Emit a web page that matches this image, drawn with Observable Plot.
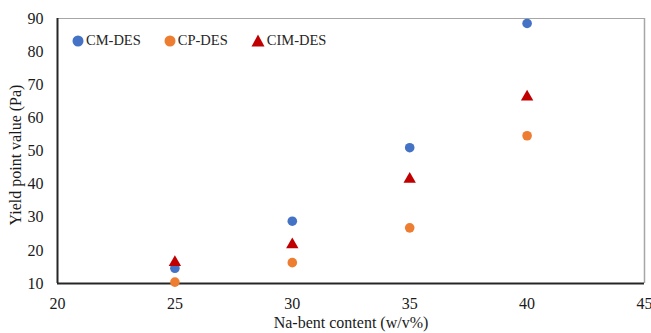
<!DOCTYPE html>
<html>
<head>
<meta charset="utf-8">
<script src="https://cdn.jsdelivr.net/npm/d3@7"></script>
<script src="https://cdn.jsdelivr.net/npm/@observablehq/plot@0.6"></script>
<style>
  html, body { margin: 0; padding: 0; background: #fff; }
  #wrap { position: relative; width: 651px; height: 333px; font-family: "Liberation Serif", "Times New Roman", serif; }
  #legend { position: absolute; left: 72px; top: 32px; display: flex; align-items: center; font-size: 14.5px; color: #262626; }
  #legend .item { display: flex; align-items: center; margin-right: 23px; }
  #legend svg { margin-right: 2px; }
  #ytitle { position: absolute; left: 16px; top: 155px; transform: translate(-50%, -50%) rotate(-90deg); white-space: nowrap; font-size: 16px; line-height: 16px; color: #1a1a1a; }
</style>
</head>
<body>
<div id="wrap"></div>
<script>
// Na-bent content (w/v%)
const content = [25, 30, 35, 40];
// Yield point values (Pa) for each drilling fluid
const cmDes = [14.6, 28.8, 51.0, 88.5];
const cpDes = [10.4, 16.3, 26.8, 54.6];
const cimDes = [16.4, 21.7, 41.5, 66.3];

const seriesNames = ["CM-DES", "CP-DES", "CIM-DES"];
const seriesColors = ["#4472C4", "#ED7D31", "#C00000"];
const seriesSymbols = ["circle", "circle", "triangle"];

const xTicks = [20, 25, 30, 35, 40, 45];
const yTicks = [10, 20, 30, 40, 50, 60, 70, 80, 90];

const rows = [];
[cmDes, cpDes, cimDes].forEach((vals, s) => {
  vals.forEach((v, i) => rows.push({series: seriesNames[s], x: content[i], y: v}));
});

const chart = Plot.plot({
  width: 651,
  height: 333,
  marginLeft: 57,
  marginRight: 7,
  marginTop: 18,
  marginBottom: 50,
  style: {fontFamily: "'Liberation Serif', 'Times New Roman', serif", fontSize: "16px", color: "#1a1a1a", background: "#fff"},
  x: {domain: [20, 45], ticks: xTicks, tickSize: 0, tickPadding: 14, label: "Na-bent content (w/v%)", labelAnchor: "center", labelArrow: "none", labelOffset: 44},
  y: {domain: [10, 90], ticks: yTicks, tickSize: 0, tickPadding: 14, label: null},
  color: {domain: seriesNames, range: seriesColors},
  symbol: {domain: seriesNames, range: seriesSymbols},
  marks: [
    Plot.ruleY([90], {stroke: "#a6a6a6", strokeWidth: 1.2}),
    Plot.ruleX([45], {stroke: "#a6a6a6", strokeWidth: 1.5}),
    Plot.ruleX([20], {stroke: "#262626", strokeWidth: 2}),
    Plot.ruleY([10], {stroke: "#262626", strokeWidth: 2}),
    Plot.dot(rows.filter(d => d.series !== "CIM-DES"), {x: "x", y: "y", fill: "series", symbol: "series", r: 4.8}),
    Plot.dot(rows.filter(d => d.series === "CIM-DES"), {x: "x", y: "y", fill: "series", symbol: "series", r: 4.6})
  ]
});
chart.style.position = "absolute";
chart.style.left = "0";
chart.style.top = "0";
const wrap = document.getElementById("wrap");
wrap.appendChild(chart);

// Y axis title
const ytitle = document.createElement("div");
ytitle.id = "ytitle";
ytitle.textContent = "Yield point value (Pa)";
wrap.appendChild(ytitle);

// Legend drawn in the upper-left corner of the plot area
const legend = document.createElement("div");
legend.id = "legend";
seriesNames.forEach((name, i) => {
  const item = document.createElement("div");
  item.className = "item";
  const sym = seriesSymbols[i] === "triangle"
    ? `<svg width="14" height="13"><path d="M7,0.5 L13.5,12.5 L0.5,12.5 Z" fill="${seriesColors[i]}"/></svg>`
    : `<svg width="12" height="12"><circle cx="6" cy="6" r="5.5" fill="${seriesColors[i]}"/></svg>`;
  item.innerHTML = sym + `<span>${name}</span>`;
  legend.appendChild(item);
});
wrap.appendChild(legend);
</script>
</body>
</html>
